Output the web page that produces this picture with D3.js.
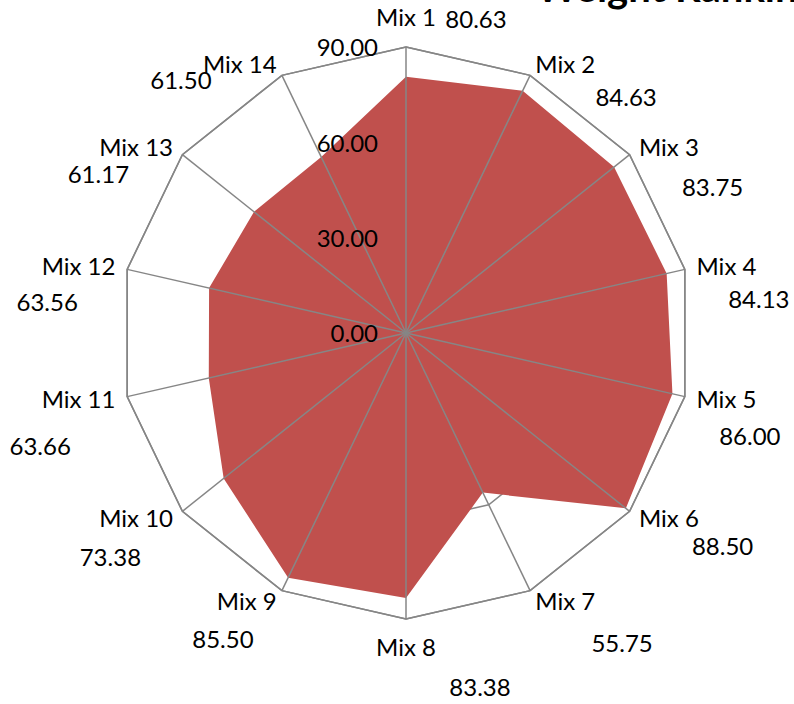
<!DOCTYPE html>
<html>
<head>
<meta charset="utf-8">
<title>Weight Ranking</title>
<script src="https://cdn.jsdelivr.net/npm/d3@7"></script>
<style>
  body { margin: 0; background: #fff; }
  text { font-family: Lato, "Open Sans", sans-serif; fill: #000; }
</style>
</head>
<body>
<script>
// Radar chart data
var categories = ["Mix 1", "Mix 2", "Mix 3", "Mix 4", "Mix 5", "Mix 6", "Mix 7",
                  "Mix 8", "Mix 9", "Mix 10", "Mix 11", "Mix 12", "Mix 13", "Mix 14"];
var values = [80.63, 84.63, 83.75, 84.13, 86.00, 88.50, 55.75,
              83.38, 85.50, 73.38, 63.66, 63.56, 61.17, 61.50];
var ticks = [0, 30, 60, 90];
var titleText = "Weight Ranking";

// Offsets of the value labels from each outer vertex (layout only)
var valueLabelOffset = [[70, -27], [96, 22], [83, 33], [74, 30], [65, 40], [93, 35], [92, 53],
                        [74, 69], [-59, 49], [-72, 46], [-87, 50], [-80, 33], [-84, 20], [-101, 5]];

var w = 794, h = 704;
var cx = 406, cy = 333, radius = 286;
var fontSize = "24px";

var svg = d3.select("body").append("svg").attr("width", w).attr("height", h);

var rScale = d3.scaleLinear().domain([0, 90]).range([0, radius]);
var angle = d3.scaleLinear().domain([0, categories.length]).range([0, 2 * Math.PI]);

function point(i, v) {
  var a = angle(i), r = rScale(v);
  return [cx + r * Math.sin(a), cy - r * Math.cos(a)];
}

var gridColor = "#868686";

// Ring gridlines (drawn under the area)
ticks.slice(1).forEach(function(t) {
  svg.append("polygon")
     .attr("points", categories.map(function(c, i) { return point(i, t).join(","); }).join(" "))
     .attr("fill", "none").attr("stroke", gridColor).attr("stroke-width", 1.5);
});

// Filled area
svg.append("polygon")
   .attr("points", values.map(function(v, i) { return point(i, v).join(","); }).join(" "))
   .attr("fill", "#C0504D");

// Spokes
svg.selectAll("line.spoke").data(categories).enter().append("line")
   .attr("class", "spoke")
   .attr("x1", cx).attr("y1", cy)
   .attr("x2", function(d, i) { return point(i, 90)[0]; })
   .attr("y2", function(d, i) { return point(i, 90)[1]; })
   .attr("stroke", gridColor).attr("stroke-width", 1.5);

// Outer ring on top
svg.append("polygon")
   .attr("points", categories.map(function(c, i) { return point(i, 90).join(","); }).join(" "))
   .attr("fill", "none").attr("stroke", gridColor).attr("stroke-width", 1.5);

// Tick labels
svg.selectAll("text.tick").data(ticks).enter().append("text")
   .attr("class", "tick")
   .attr("x", 378)
   .attr("y", function(d) { return cy - rScale(d) + 1; })
   .attr("dy", "0.35em")
   .attr("text-anchor", "end")
   .style("font-size", fontSize)
   .text(function(d) { return d.toFixed(2); });

// Category labels
svg.selectAll("text.cat").data(categories).enter().append("text")
   .attr("class", "cat")
   .each(function(d, i) {
     var a = angle(i), s = Math.sin(a), c = Math.cos(a);
     var p = point(i, 90);
     var x = p[0] + 12 * s, y = p[1] - 12 * c;
     var anchor = "middle";
     if (s > 0.1) anchor = "start";
     else if (s < -0.1) anchor = "end";
     else y += c > 0 ? -17 : 17;
     d3.select(this).attr("x", x).attr("y", y).attr("dy", "0.35em")
       .attr("text-anchor", anchor);
   })
   .style("font-size", fontSize)
   .text(function(d) { return d; });

// Value labels
svg.selectAll("text.val").data(values).enter().append("text")
   .attr("class", "val")
   .attr("x", function(d, i) { return point(i, 90)[0] + valueLabelOffset[i][0]; })
   .attr("y", function(d, i) { return point(i, 90)[1] + valueLabelOffset[i][1]; })
   .attr("dy", "0.35em")
   .attr("text-anchor", "middle")
   .style("font-size", fontSize)
   .text(function(d) { return d.toFixed(2); });

// Title, cut off at the top as in the original
svg.append("text")
   .attr("x", 536).attr("y", 2)
   .style("font-size", "40px").style("font-weight", "bold")
   .text(titleText);
</script>
</body>
</html>
